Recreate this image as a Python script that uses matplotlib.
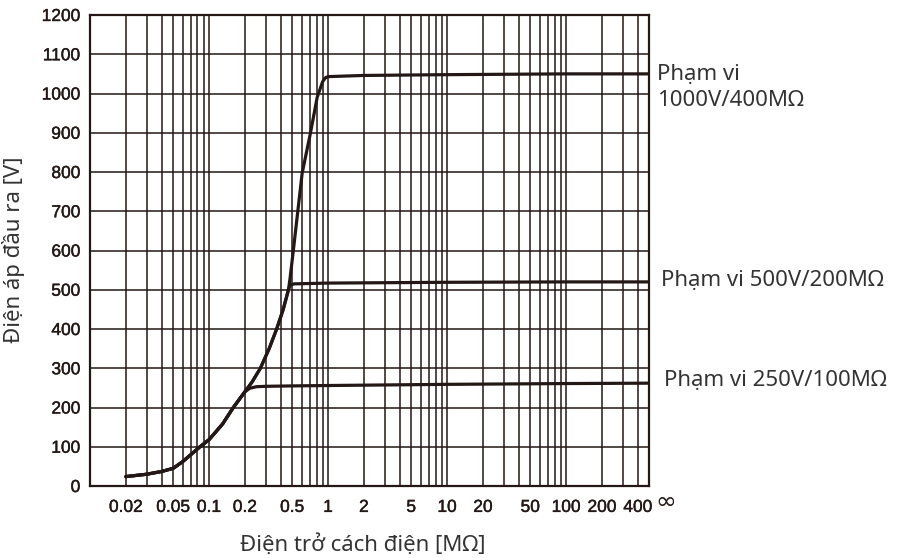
import numpy as np
import matplotlib
matplotlib.use("Agg")
import matplotlib.pyplot as plt
import matplotlib.patheffects as pe
from matplotlib.transforms import blended_transform_factory

# ---- data ----
common_x = [0.02, 0.03, 0.04, 0.05, 0.06, 0.084, 0.1, 0.13, 0.16, 0.2]
common_y = [24, 30, 37, 45, 62, 100, 118, 158, 200, 240]

r250_x = [0.22, 0.25, 0.3, 0.5, 1, 10, 100, 500]
r250_y = [249, 253, 254, 255, 256, 259, 261, 262]

mid_x = [0.23, 0.27, 0.32, 0.37, 0.42, 0.465]
mid_y = [265, 300, 350, 400, 450, 500]

r500_x = [0.48, 0.52, 1, 10, 100, 500]
r500_y = [512, 515, 517, 519, 520, 520]

top_x = [0.48, 0.513, 0.557, 0.606, 0.71, 0.81, 0.9, 0.95, 1.0, 2, 10, 100, 500]
top_y = [530, 605, 700, 797, 898, 990, 1030, 1040, 1043, 1046, 1048, 1050, 1050]

xtick_vals = [0.02, 0.05, 0.1, 0.2, 0.5, 1, 2, 5, 10, 20, 50, 100, 200, 400]
xtick_labels = ["0.02", "0.05", "0.1", "0.2", "0.5", "1", "2", "5", "10", "20", "50", "100", "200", "400"]
yticks = list(range(0, 1201, 100))

range_labels = [["Phạm vi", "1000V/400MΩ"], ["Phạm vi 500V/200MΩ"], ["Phạm vi 250V/100MΩ"]]

# ---- build series ----
x250 = common_x + r250_x
y250 = common_y + r250_y
x500 = common_x + mid_x + r500_x
y500 = common_y + mid_y + r500_y
x1000 = common_x + mid_x + top_x
y1000 = common_y + mid_y + top_y

dark = "#231815"
fig = plt.figure(figsize=(9.12, 5.58), dpi=100)
ax = fig.add_axes([90/912, 1-486/558, (649.3-90)/912, (486-15)/558])
ax.set_xscale("log")
ax.set_xlim(0.01, 500)
ax.set_ylim(0, 1200)

# grid
grid_x = [m * 10.0**e for e in range(-2, 3) for m in range(1, 10)]
grid_x = [g for g in grid_x if 0.01 < g < 500]
for g in grid_x:
    ax.axvline(g, color=dark, lw=1.1, zorder=1)
for t in yticks[1:-1]:
    ax.axhline(t, color=dark, lw=1.1, zorder=1)

for xs, ys in [(x250, y250), (x500, y500), (x1000, y1000)]:
    ax.plot(xs, ys, color=dark, lw=2.3, solid_capstyle="round", solid_joinstyle="round", zorder=3)

for s in ax.spines.values():
    s.set_color(dark)
    s.set_linewidth(1.6)

tickfont = dict(family=["Liberation Sans", "DejaVu Sans"], size=12.5)
ax.set_xticks(xtick_vals)
ax.set_xticklabels(xtick_labels, **tickfont)
ax.set_xticks([], minor=True)
ax.set_yticks(yticks)
ax.set_yticklabels([str(v) for v in yticks], **tickfont)
ax.tick_params(axis="both", length=0, colors=dark)
ax.tick_params(axis="x", pad=10)
ax.tick_params(axis="y", pad=7)
for lab in ax.get_xticklabels() + ax.get_yticklabels():
    lab.set_path_effects([pe.withStroke(linewidth=0.3, foreground=dark)])

trans = blended_transform_factory(ax.transAxes, ax.transAxes)
ax.text(1.01, -0.033, "∞", transform=trans, ha="left", va="center",
        fontsize=18, color=dark, family=["DejaVu Sans"])

labfont = dict(family=["Noto Sans", "DejaVu Sans"], size=16, color="#333333")
fig.text(657/912, 1-75/558, range_labels[0][0], ha="left", va="center", **labfont)
fig.text(657/912, 1-100/558, range_labels[0][1], ha="left", va="center", **labfont)
fig.text(661/912, 1-281/558, range_labels[1][0], ha="left", va="center", **labfont)
fig.text(664/912, 1-380/558, range_labels[2][0], ha="left", va="center", **labfont)

fig.text(363/912, 1-545/558, "Điện trở cách điện [MΩ]", ha="center", va="center", **labfont)
fig.text(14/912, 1-250/558, "Điện áp đầu ra [V]", ha="center", va="center", rotation=90, **labfont)

fig.savefig("out.png", dpi=100)
